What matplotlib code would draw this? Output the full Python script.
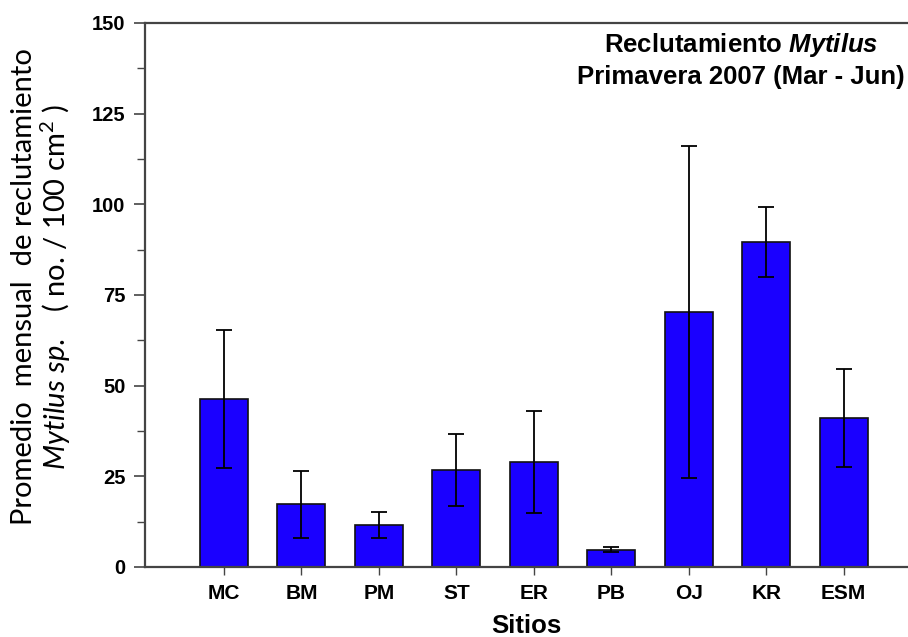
import matplotlib
matplotlib.use("Agg")
import matplotlib.pyplot as plt
import numpy as np
from matplotlib.ticker import MultipleLocator

sites = ["MC", "BM", "PM", "ST", "ER", "PB", "OJ", "KR", "ESM"]
means = [46.3, 17.3, 11.6, 26.8, 29.0, 4.8, 70.3, 89.7, 41.0]
errors = [19.0, 9.2, 3.6, 9.9, 14.1, 0.8, 45.7, 9.6, 13.5]

plt.rcParams["mathtext.fontset"] = "custom"
plt.rcParams["mathtext.rm"] = "Lato"
plt.rcParams["mathtext.it"] = "Lato:italic"
plt.rcParams["mathtext.bf"] = "Liberation Sans:bold"
plt.rcParams["mathtext.bfit"] = "Liberation Sans:bold:italic"

fig = plt.figure(figsize=(9.08, 6.37), dpi=100)
ax = fig.add_axes([145/908, 1-567/637, 1-145/908, (567-23)/637])

x = np.arange(len(sites))
ax.bar(x, means, width=0.62, color="#1a00ff", edgecolor="#111111", linewidth=1.2, zorder=2)
ax.errorbar(x, means, yerr=errors, fmt="none", ecolor="black", elinewidth=1.3,
            capsize=6, capthick=1.3, zorder=3)

ax.set_xlim(-1.02, 8.83)
ax.set_ylim(0, 150)
ax.set_xticks(x)
ax.set_xticklabels(sites, fontfamily="Liberation Sans", fontweight="bold", fontsize=15)
ax.yaxis.set_major_locator(MultipleLocator(25))
ax.yaxis.set_minor_locator(MultipleLocator(12.5))
for lab in ax.get_yticklabels():
    lab.set_fontfamily("Liberation Sans")
    lab.set_fontweight("bold")
    lab.set_fontsize(14.5)
ax.tick_params(axis="y", which="major", direction="out", length=8, width=1.2, color="#444444", pad=6)
ax.tick_params(axis="y", which="minor", direction="out", length=6, width=1.0, color="#444444")
ax.tick_params(axis="x", which="major", direction="out", length=6, width=1.0, color="#444444", pad=6)

for side in ["left", "bottom", "top"]:
    ax.spines[side].set_linewidth(1.6)
    ax.spines[side].set_color("#444444")
ax.spines["right"].set_visible(False)

ax.set_xlabel("Sitios", fontfamily="Liberation Sans", fontweight="bold", fontsize=18.5, labelpad=8)
ax.set_ylabel("Promedio  mensual  de reclutamiento\n" + r"$\mathit{Mytilus\ sp.}$" + "   ( no. / 100 cm$^{2}$ )",
              fontfamily="Lato", fontsize=21, linespacing=1.05)
ax.yaxis.set_label_coords(-0.095, 0.515)

ax.text(0.781, 0.985, "Reclutamiento " + r"$\mathbfit{Mytilus}$" + "\nPrimavera 2007 (Mar - Jun)",
        transform=ax.transAxes, ha="center", va="top", fontfamily="Liberation Sans",
        fontweight="bold", fontsize=18.5, linespacing=1.3)

fig.savefig("out.png", dpi=100)
